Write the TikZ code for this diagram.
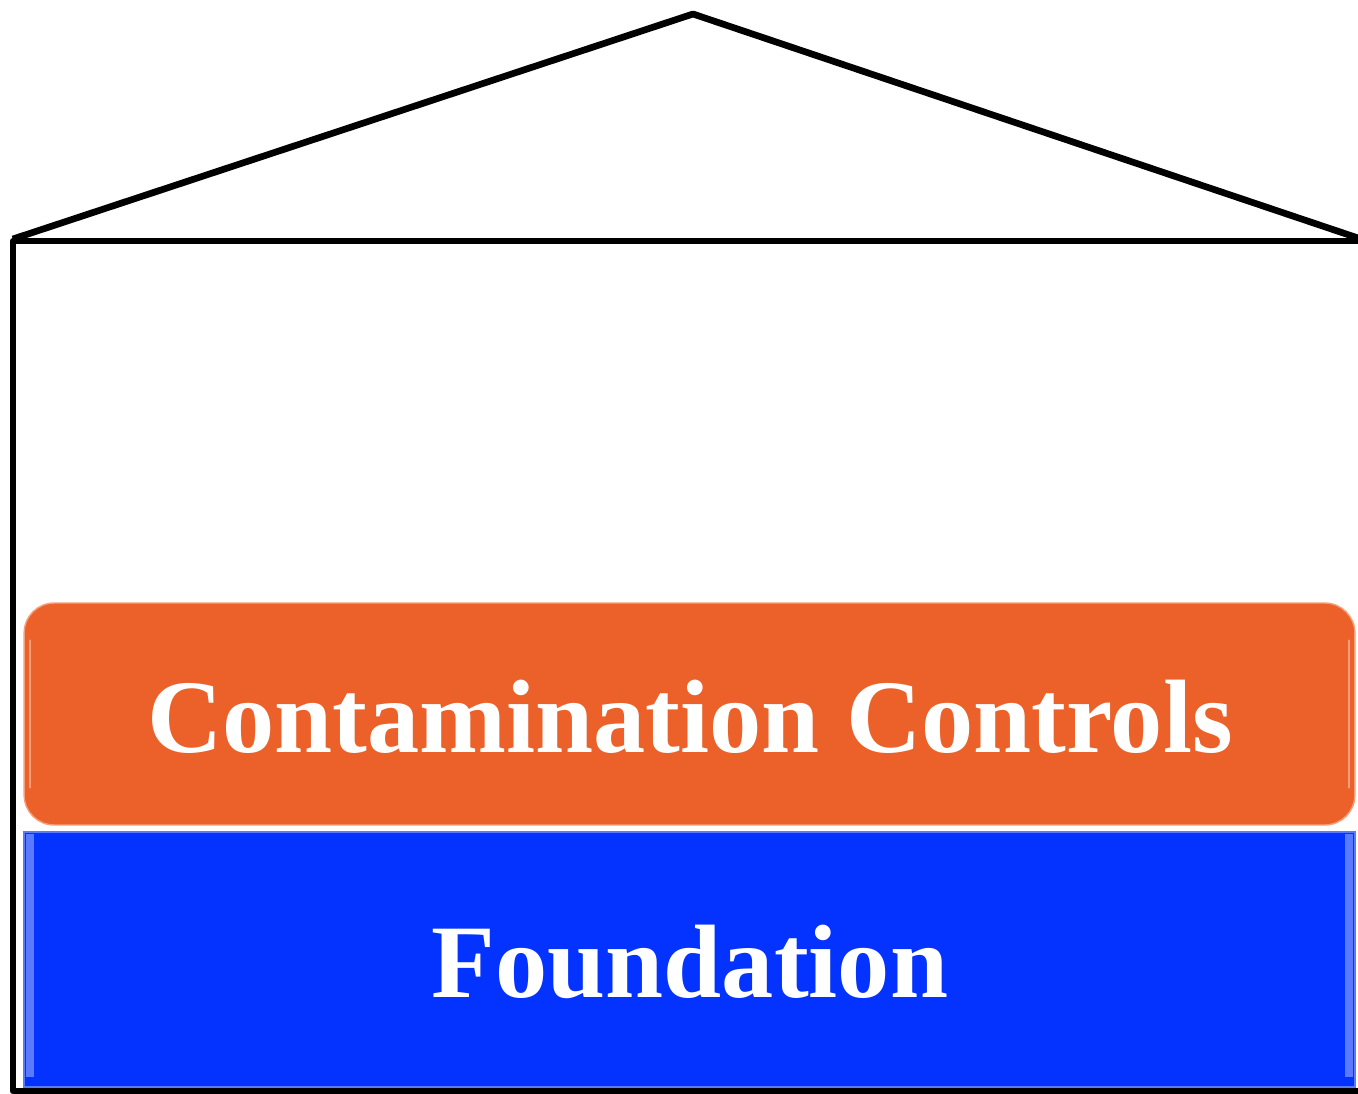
\documentclass[tikz,border=0pt]{standalone}
\usepackage{fontspec}
\setmainfont{Liberation Serif}
\definecolor{rust}{HTML}{EB6129}
\definecolor{rustlight}{HTML}{F5A07A}
\definecolor{deepblue}{HTML}{0433FF}
\definecolor{bluelight}{HTML}{5A7BFF}
\tikzset{
  wall/.style={line width=3.8pt, line join=round, line cap=rect},
  band/.style={minimum width=26.62cm, inner sep=0pt, outer sep=0pt},
  label/.style={text=white, font=\fontsize{59.4}{60}\selectfont\bfseries, anchor=base, inner sep=0pt},
}
\begin{document}
\begin{tikzpicture}[x=0.02cm, y=-0.02cm]
  \useasboundingbox (0,0) rectangle (1358,1094);
  % house outline
  \coordinate (eaveL) at (16,238);
  \coordinate (apex) at (693,14);
  \coordinate (eaveR) at (1358,238);
  \draw[wall] (eaveL) -- (apex) -- (eaveR);
  \coordinate (ceilL) at (13,241);
  \coordinate (ceilR) at (1358,241);
  \coordinate (floorL) at (13,1091);
  \coordinate (floorR) at (1358,1091);
  \draw[wall] (ceilR) -- (ceilL) -- (floorL) -- (floorR);
  % layers with a soft bevelled rim
  \node[band, fill=rust, draw=rustlight, line width=0.8pt, rounded corners=0.6cm, minimum height=4.44cm] (controls) at (689.5,714) {};
  \draw[rustlight, line width=1.4pt, line cap=round] ([xshift=0.12cm, yshift=-0.75cm]controls.north west) -- ([xshift=0.12cm, yshift=0.75cm]controls.south west);
  \draw[rustlight, line width=1.4pt, line cap=round] ([xshift=-0.12cm, yshift=-0.75cm]controls.north east) -- ([xshift=-0.12cm, yshift=0.75cm]controls.south east);
  \node[band, fill=deepblue, draw=bluelight, line width=0.8pt, minimum height=5.1cm] (foundation) at (689.5,959.5) {};
  \fill[bluelight] ([xshift=0.03cm, yshift=-0.03cm]foundation.north west) rectangle ([xshift=0.2cm, yshift=0.2cm]foundation.south west);
  \fill[bluelight] ([xshift=-0.03cm, yshift=-0.03cm]foundation.north east) rectangle ([xshift=-0.2cm, yshift=0.2cm]foundation.south east);
  % text
  \node[label] (controlsText) at (690,752) {Contamination Controls};
  \node[label] (foundationText) at (690,997) {Foundation};
\end{tikzpicture}
\end{document}
